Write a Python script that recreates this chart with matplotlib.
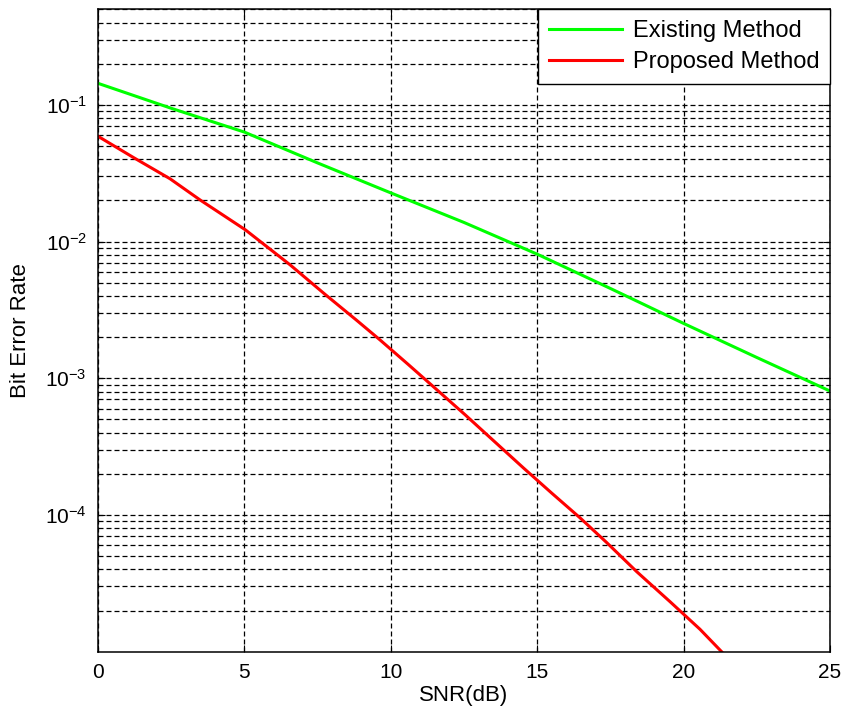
import numpy as np
import matplotlib.pyplot as plt
from matplotlib.ticker import LogLocator, NullFormatter, FixedLocator

plt.rcParams['font.family'] = ['Liberation Sans', 'DejaVu Sans']
plt.rcParams['mathtext.fontset'] = 'custom'
plt.rcParams['mathtext.rm'] = 'Liberation Sans'
plt.rcParams['mathtext.it'] = 'Liberation Sans'
plt.rcParams['mathtext.default'] = 'regular'

# values
snr_existing = [0, 2.5, 5, 7.5, 10, 12.5, 15, 17.5, 20, 22.5, 25]
ber_existing = [0.1437, 0.0944, 0.0632, 0.0376, 0.0227, 0.0138, 0.00809,
                0.00454, 0.00252, 0.00142, 0.000807]

snr_proposed = [0.0, 1.21, 2.46, 3.48, 5.03, 6.56, 7.75, 8.83, 9.63, 10.6,
                11.45, 12.53, 13.5, 14.53, 15.49, 16.46, 17.37, 18.4, 19.54,
                20.56, 21.3]
ber_proposed = [0.0589, 0.0412, 0.0288, 0.0202, 0.0122, 0.00676, 0.00412,
                0.00266, 0.00191, 0.00126, 0.00087, 0.000543, 0.000351,
                0.000221, 0.000145, 9.55e-05, 6.3e-05, 3.85e-05, 2.32e-05,
                1.46e-05, 1.0e-05]

x_ticks = [0, 5, 10, 15, 20, 25]
y_ticks = [1e-4, 1e-3, 1e-2, 1e-1]

fig = plt.figure(figsize=(8.42, 7.15), dpi=100)
ax = fig.add_axes([0.1164, 0.0885, 0.8693, 0.8985])

ax.semilogy(snr_existing, ber_existing, color=(0, 1, 0), lw=2.2, label='Existing Method')
ax.semilogy(snr_proposed, ber_proposed, color=(1, 0, 0), lw=2.2, label='Proposed Method')

ax.set_xlim(0, 25)
ax.set_ylim(1e-5, 0.5)
ax.set_xticks(x_ticks)
ax.yaxis.set_major_locator(FixedLocator(y_ticks))
ax.yaxis.set_minor_locator(LogLocator(base=10, subs=np.arange(2, 10), numticks=20))
ax.yaxis.set_minor_formatter(NullFormatter())

grid_style = dict(color='k', lw=0.9, linestyle=(0, (4, 2.4)))
ax.grid(True, which='both', axis='y', **grid_style)
ax.grid(True, which='major', axis='x', **grid_style)

ax.tick_params(which='both', direction='in', top=True, right=True, labelsize=15, pad=8)
ax.tick_params(which='major', length=5)
ax.tick_params(which='minor', length=3)
for s in ax.spines.values():
    s.set_linewidth(1.1)

ax.set_xlabel('SNR(dB)', fontsize=16, labelpad=2)
ax.set_ylabel('Bit Error Rate', fontsize=16, labelpad=10)

leg = ax.legend(loc='upper right', fontsize=17, handlelength=3.1, handletextpad=0.45,
                fancybox=False, edgecolor='k', framealpha=1, borderaxespad=0,
                borderpad=0.45, labelspacing=0.4)
leg.get_frame().set_linewidth(1.0)

fig.savefig('out.png', dpi=100)
